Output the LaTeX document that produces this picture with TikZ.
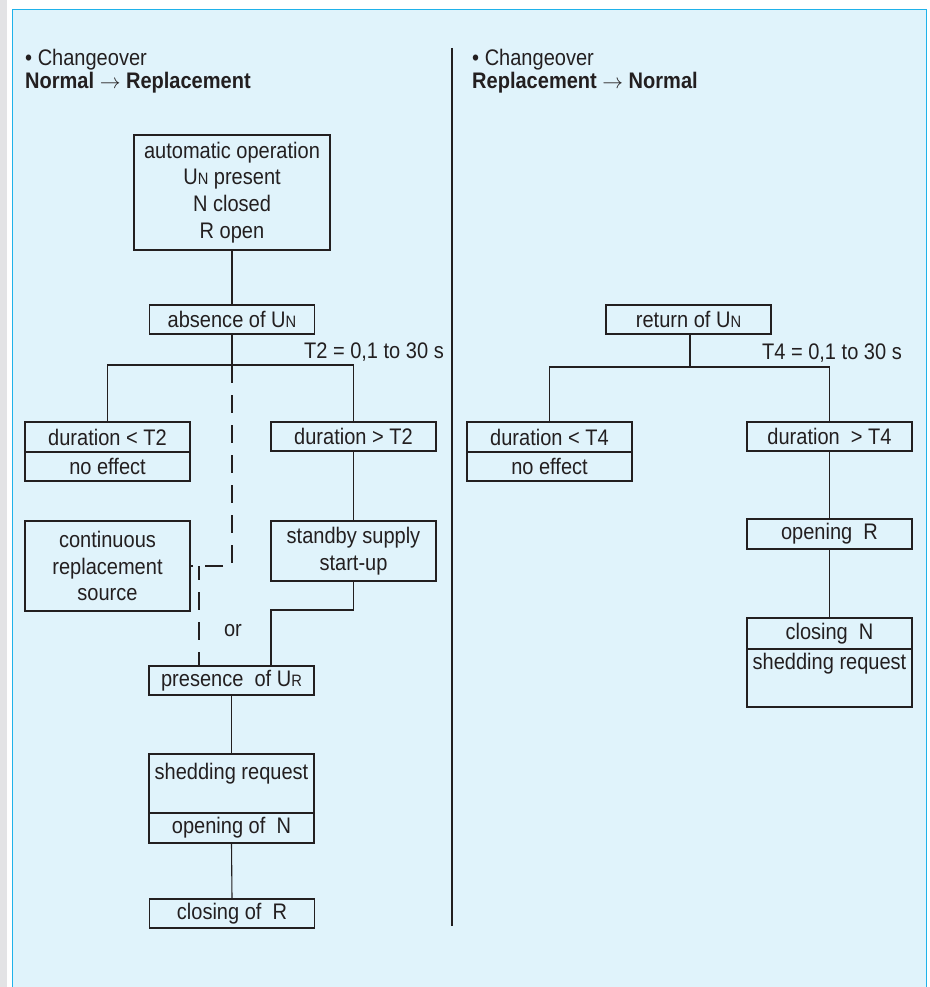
\documentclass[tikz,border=0pt]{standalone}
\usepackage{fontspec}
\setmainfont{Liberation Sans}[FakeStretch=0.89]
\definecolor{bgfill}{HTML}{E0F3FB}
\definecolor{framec}{HTML}{1FB2EA}
\definecolor{stripc}{HTML}{E3E3E5}
\definecolor{linec}{HTML}{231F20}
\newcommand\smc[1]{{\fontsize{16.5}{16.5}\selectfont #1}}
\begin{document}
\begin{tikzpicture}[x=1pt,y=-1pt,
  txt/.style={text=linec,font=\fontsize{22.5}{26.7}\selectfont,inner sep=0pt},
  head/.style={text=linec,font=\fontsize{22.5}{23.5}\selectfont,inner sep=0pt,align=left,anchor=base west},
  box/.style={txt,draw=linec,line width=1.1pt,minimum width=165pt,minimum height=29pt,align=center},
  conn/.style={draw=linec,line width=1.1pt},
  dconn/.style={conn,dash pattern=on 18pt off 12pt}]
\useasboundingbox (0,0) rectangle (929,987);
\fill[stripc] (0,0) rectangle (7,987);
\fill[bgfill] (12.5,9.5) rectangle (926.5,990);
\draw[framec,line width=1.5pt] (12.5,990) -- (12.5,9.5) -- (926.5,9.5) -- (926.5,990);
% headers
\node[head] (h1) at (25,89) {\textbullet\ Changeover\\\textbf{Normal} $\rightarrow$ \textbf{Replacement}};
\node[head] (h2) at (472,89) {\textbullet\ Changeover\\\textbf{Replacement} $\rightarrow$ \textbf{Normal}};
\coordinate (dtop) at (452,48);
\coordinate (dbot) at (452,926);
\draw[conn] (dtop) -- (dbot);
% left tree
\node[box,minimum width=196pt,minimum height=115pt] (auto) at (232,192.5)
  {automatic operation\\U\smc{N} present\\N closed\\R open};
\node[box] (absN) at (232,319.5) {absence of U\smc{N}};
\node[box,minimum height=30pt] (durlt) at (107.5,437) {duration < T2};
\node[box] (noeff) at (107.5,466.5) {no effect};
\node[box] (durgt) at (353.5,436.5) {duration > T2};
\node[box,minimum height=60pt] (standby) at (353.5,551) {standby supply\\start-up};
\node[box,minimum height=90pt] (cont) at (107.5,566) {continuous\\replacement\\source};
\node[txt] (or) at (233,631) {or};
\node[box] (pres) at (231.5,680.5) {presence\ \ of U\smc{R}};
\node[box,minimum height=59pt] (shed) at (231.5,783.5) {};
\node[txt,anchor=base] (shedt) at (231.5,779) {shedding request};
\node[box,minimum height=30pt] (openN) at (231.5,828) {opening of\ \ N};
\node[box] (closR) at (232,913.5) {closing of\ \ R};
\node[txt,anchor=base east] (t2) at (444,358) {T2 = 0,1 to 30 s};
\coordinate (j1) at (232,365);
\coordinate (j2) at (271,610);
\coordinate (j4) at (199,566);
\draw[conn] (auto.south) -- (absN.north);
\draw[conn] (absN.south) -- (j1);
\draw[conn] (durlt.north) |- (j1) -| (durgt.north);
\draw[conn] (durgt.south) -- (standby.north);
\draw[conn] (standby.south) |- (j2) -- (j2 |- pres.north);
\draw[dconn] (j1) |- (cont.east);
\draw[dconn,dash phase=4pt] (j4) -- (j4 |- pres.north);
\draw[conn] (pres.south) -- (shed.north);
\draw[conn] (openN.south) -- (closR.north);
% right tree
\node[box] (retN) at (688.5,319.5) {return of U\smc{N}};
\node[txt,anchor=base east] (t4) at (902,359) {T4 = 0,1 to 30 s};
\node[box,minimum height=30pt] (durlt4) at (549.5,437) {duration < T4};
\node[box] (noeff4) at (549.5,466.5) {no effect};
\node[box] (durgt4) at (829.5,436.5) {duration\ \ > T4};
\node[box,minimum height=30pt] (openR) at (829.5,534) {opening\ \ R};
\node[box,minimum height=31pt] (closN) at (829.5,633.5) {closing\ \ N};
\node[box,minimum height=58pt] (shedN) at (829.5,678) {};
\node[txt,anchor=base] (shedNt) at (829.5,669) {shedding request};
\coordinate (j5) at (690,367);
\draw[conn] (retN.south -| j5) -- (j5);
\draw[conn] (durlt4.north) |- (j5) -| (durgt4.north);
\draw[conn] (durgt4.south) -- (openR.north);
\draw[conn] (openR.south) -- (closN.north);
\end{tikzpicture}
\end{document}
